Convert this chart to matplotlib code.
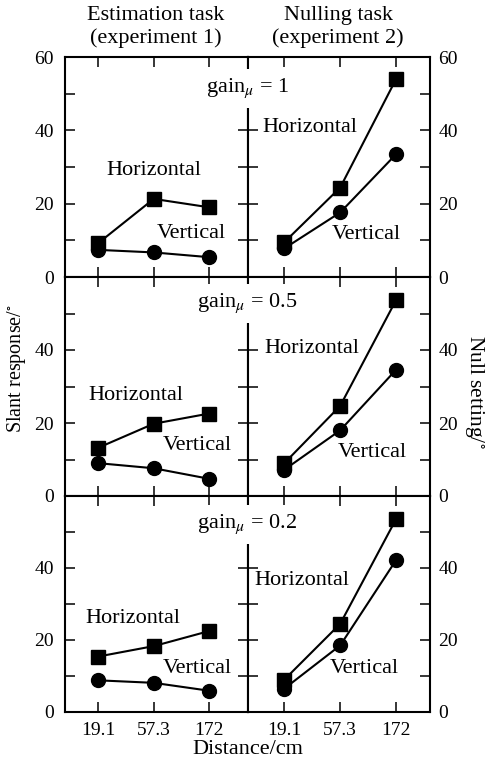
import numpy as np
import matplotlib
matplotlib.use("Agg")
import matplotlib.pyplot as plt
from matplotlib.ticker import FixedLocator, FuncFormatter, NullLocator
import matplotlib.transforms as mtransforms

plt.rcParams['font.family'] = ['Liberation Serif', 'DejaVu Serif']
plt.rcParams['mathtext.fontset'] = 'stix'

# ---- data ----
distances = [19.1, 57.3, 172]
distance_labels = ["19.1", "57.3", "172"]
gains = ["1", "0.5", "0.2"]

# Estimation task (experiment 1)
est_horizontal_g1 = [9.2, 21.3, 19.0]
est_vertical_g1 = [7.4, 6.7, 5.4]
est_horizontal_g05 = [13.2, 19.8, 22.6]
est_vertical_g05 = [9.0, 7.6, 4.7]
est_horizontal_g02 = [15.4, 18.3, 22.5]
est_vertical_g02 = [8.8, 8.1, 5.9]

# Nulling task (experiment 2)
null_horizontal_g1 = [9.5, 24.4, 54.0]
null_vertical_g1 = [7.8, 17.6, 33.5]
null_horizontal_g05 = [9.0, 24.7, 53.7]
null_vertical_g05 = [7.2, 18.0, 34.6]
null_horizontal_g02 = [9.0, 24.5, 53.6]
null_vertical_g02 = [6.5, 18.5, 42.2]

est_h = [est_horizontal_g1, est_horizontal_g05, est_horizontal_g02]
est_v = [est_vertical_g1, est_vertical_g05, est_vertical_g02]
null_h = [null_horizontal_g1, null_horizontal_g05, null_horizontal_g02]
null_v = [null_vertical_g1, null_vertical_g05, null_vertical_g02]

# label positions (x in category-index units, y in data units)
est_hlabel = [(1.0, 29.0), (0.68, 27.4), (0.63, 25.9)]
est_vlabel = [(1.68, 12.0), (1.79, 13.7), (1.78, 12.2)]
null_hlabel = [(0.46, 40.7), (0.50, 40.4), (0.32, 36.5)]
null_vlabel = [(1.46, 11.5), (1.57, 11.9), (1.43, 12.0)]
gain_label_y = [51.5, 52.8, 52.2]

W, H = 486, 760
fig = plt.figure(figsize=(W / 100, H / 100), dpi=100)

rows_px = [(57, 277), (277, 496), (496, 712)]
cols_px = [(65, 247.5), (247.5, 430)]
xlims = [(9.94, 365), (9.25, 335)]

ld = np.log10(distances)
def idx_to_x(i):
    return 10 ** (ld[0] + i * (ld[-1] - ld[0]) / (len(ld) - 1))

FS_TEXT = 16
FS_TICK = 14

for r in range(3):
    top, bot = rows_px[r]
    for c in range(2):
        l, rr = cols_px[c]
        ax = fig.add_axes([l / W, (H - bot) / H, (rr - l) / W, (bot - top) / H])
        ax.set_xscale('log')
        ax.set_xlim(*xlims[c])
        ax.set_ylim(0, 60)
        hs = est_h if c == 0 else null_h
        vs = est_v if c == 0 else null_v
        ax.plot(distances, hs[r], color='black', lw=1.5, marker='s', ms=9.5,
                clip_on=False, zorder=4)
        ax.plot(distances, vs[r], color='black', lw=1.5, marker='o', ms=10,
                clip_on=False, zorder=4)
        hl = est_hlabel if c == 0 else null_hlabel
        vl = est_vlabel if c == 0 else null_vlabel
        ax.text(idx_to_x(hl[r][0]), hl[r][1], "Horizontal", ha='center', va='center',
                fontsize=FS_TEXT)
        ax.text(idx_to_x(vl[r][0]), vl[r][1], "Vertical", ha='center', va='center',
                fontsize=FS_TEXT)

        ax.xaxis.set_major_locator(FixedLocator(distances))
        ax.xaxis.set_minor_locator(NullLocator())
        ax.set_xticklabels(distance_labels if r == 2 else [""] * 3)
        ax.yaxis.set_major_locator(FixedLocator(np.arange(0, 61, 10)))
        ax.yaxis.set_minor_locator(NullLocator())
        maxlab = 60 if r == 0 else 40
        ax.yaxis.set_major_formatter(FuncFormatter(
            lambda v, p, m=maxlab: f"{int(round(v))}" if (round(v) % 20 == 0 and v <= m) else ""))
        ax.tick_params(axis='both', which='both', direction='in', length=7, width=1.1,
                       top=True, bottom=True, left=True, right=True,
                       labelsize=FS_TICK, labelleft=(c == 0), labelright=(c == 1),
                       labelbottom=(r == 2))
        ax.tick_params(axis='y', pad=8 if c == 0 else 6)
        ax.tick_params(axis='x', pad=7)
        for s in ax.spines.values():
            s.set_linewidth(1.5)

    # gain label across the middle spine
    ax_tmp = fig.axes[-1]
    trans = mtransforms.blended_transform_factory(fig.transFigure, ax_tmp.transData)
    fig.text(247.5 / W, gain_label_y[r], "gain$_{\\mu}$ = " + gains[r],
             transform=trans, ha='center', va='center', fontsize=FS_TEXT,
             bbox=dict(boxstyle='square,pad=0.35', fc='white', ec='none'), zorder=10)

fig.text(156 / W, 1 - 27 / H, "Estimation task\n(experiment 1)", ha='center', va='center',
         fontsize=FS_TEXT, linespacing=1.2)
fig.text(338 / W, 1 - 27 / H, "Nulling task\n(experiment 2)", ha='center', va='center',
         fontsize=FS_TEXT, linespacing=1.2)
fig.text(247.5 / W, 1 - 749 / H, "Distance/cm", ha='center', va='center', fontsize=FS_TEXT)
fig.text(17 / W, 1 - 368 / H, "Slant response/$^{\\circ}$", ha='center', va='center',
         rotation=90, fontsize=14.5)
fig.text(474 / W, 1 - 392 / H, "Null setting/$^{\\circ}$", ha='center', va='center',
         rotation=-90, fontsize=15.5)

fig.savefig("out.png", dpi=100)
